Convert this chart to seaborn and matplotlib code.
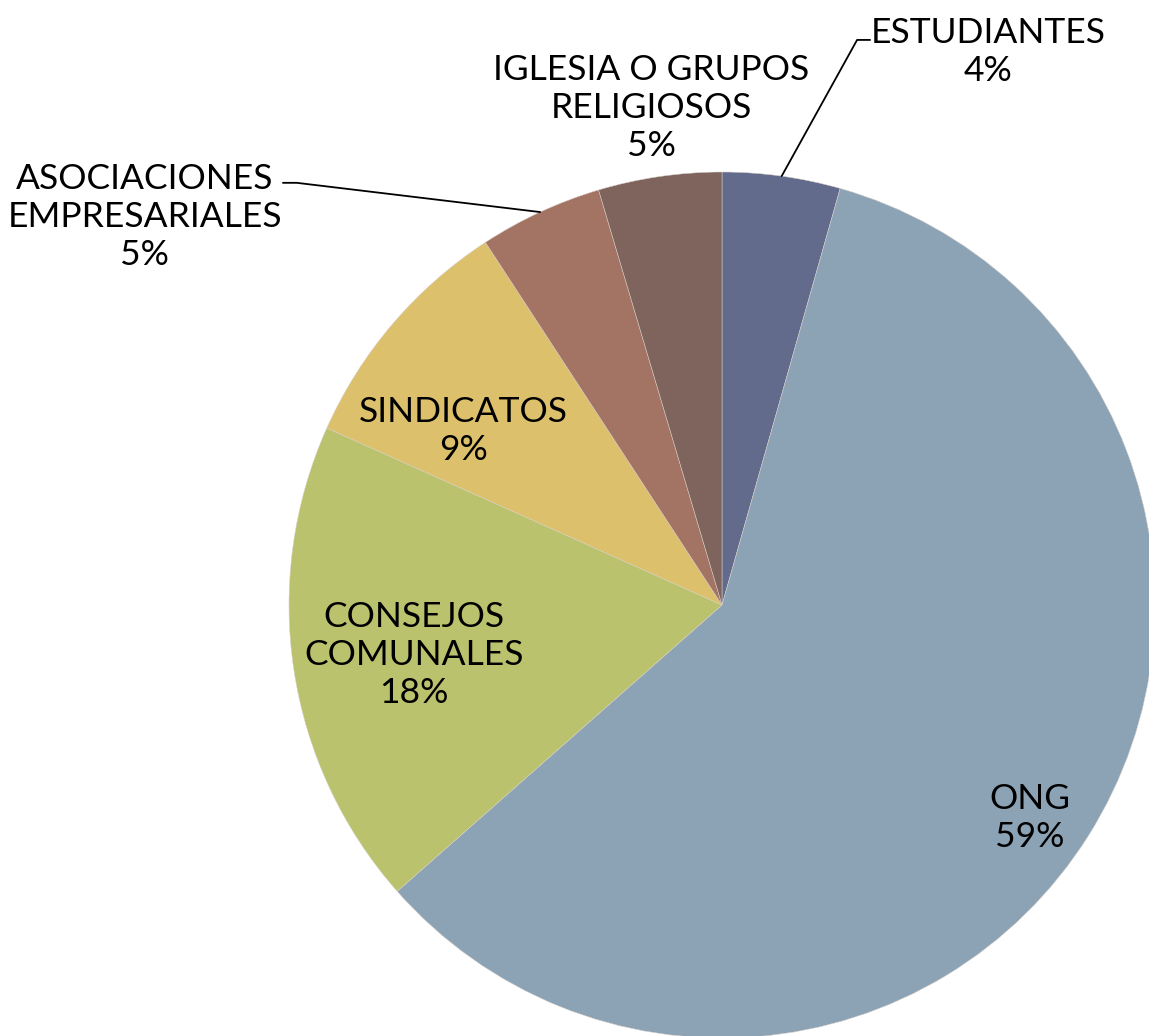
import numpy as np
import matplotlib
matplotlib.use("Agg")
import matplotlib.pyplot as plt
import seaborn as sns

# Datos del gráfico
categorias = ['ESTUDIANTES', 'ONG', 'CONSEJOS\nCOMUNALES', 'SINDICATOS',
              'ASOCIACIONES\nEMPRESARIALES', 'IGLESIA O GRUPOS\nRELIGIOSOS']
porcentajes = [4.4, 59.1, 18.2, 9.1, 4.6, 4.6]
colores = ['#636B8C', '#8CA3B6', '#BBC26D', '#DCC06B', '#A37463', '#7E645C']

sns.set_theme(style='white')
plt.rcParams['font.family'] = ['Lato', 'DejaVu Sans']

fig = plt.figure(figsize=(11.49, 10.36), dpi=100)
ax = fig.add_axes([0, 0, 1, 1])

wedges, _ = ax.pie(porcentajes, colors=colores, startangle=90, counterclock=False,
                   wedgeprops=dict(edgecolor='#D8CFC8', linewidth=0.35))

# escala: radio 433 px, centro (722, 605)
escala = 433
ax.set_xlim(-722 / escala, (1149 - 722) / escala)
ax.set_ylim(-(1036 - 605) / escala, 605 / escala)
ax.set_aspect('auto')
ax.axis('off')

# posiciones de las etiquetas (en unidades del radio)
pos_texto = [(0.614, 1.277), (0.711, -0.492), (-0.711, -0.115),
             (-0.598, 0.402), (-1.333, 0.896), (-0.164, 1.148)]
codos = {0: [(0.312, 1.305), (0.342, 1.305)],
         4: [(-0.982, 0.975), (-1.014, 0.975)]}

for i, (w, cat, p) in enumerate(zip(wedges, categorias, porcentajes)):
    ax.text(*pos_texto[i], f'{cat}\n{round(p):.0f}%', ha='center', va='center',
            fontsize=25.5, color='black', linespacing=1.22)
    if i in codos:
        ang = np.deg2rad((w.theta1 + w.theta2) / 2)
        xs = [np.cos(ang)] + [c[0] for c in codos[i]]
        ys = [np.sin(ang)] + [c[1] for c in codos[i]]
        ax.plot(xs, ys, color='black', lw=1.3)

plt.savefig('out.png', dpi=100)
